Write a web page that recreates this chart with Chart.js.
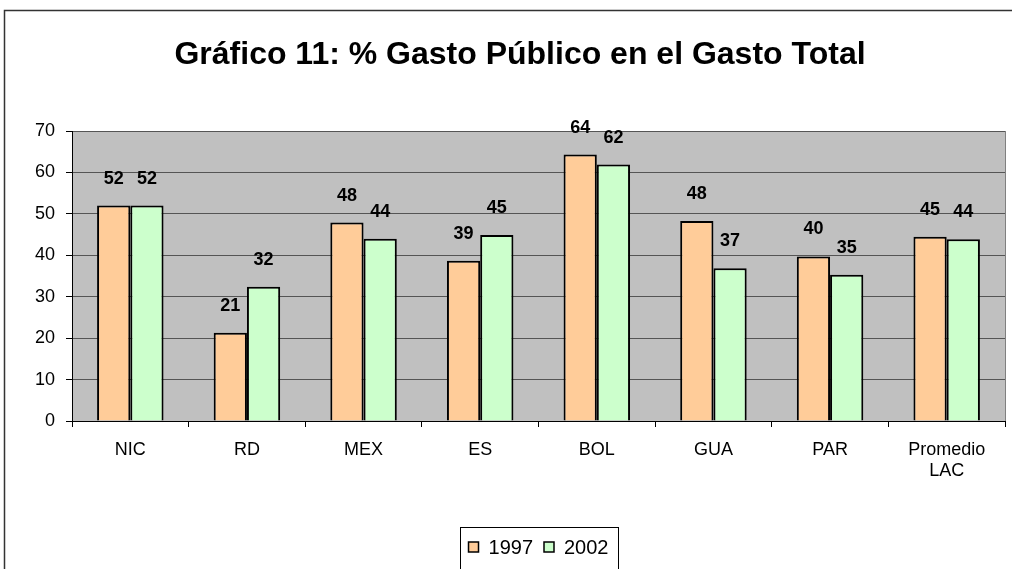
<!DOCTYPE html>
<html>
<head>
<meta charset="utf-8">
<script src="https://cdn.jsdelivr.net/npm/chart.js@4.4.0/dist/chart.umd.min.js"></script>
<style>
html, body { margin: 0; padding: 0; background: #fff; }
#wrap { width: 1012px; height: 569px; }
</style>
</head>
<body>
<div id="wrap"><canvas id="grafico" width="1012" height="569"></canvas></div>
<script>
// datos
const paises = ['NIC', 'RD', 'MEX', 'ES', 'BOL', 'GUA', 'PAR', ['Promedio', 'LAC']];
const gasto1997 = [52.0, 21.3, 47.9, 38.7, 64.3, 48.3, 39.7, 44.5];
const gasto2002 = [52.0, 32.4, 44.0, 44.9, 61.9, 36.9, 35.3, 43.9];
const años = ['1997', '2002'];
const titulo = 'Gráfico 11: % Gasto Público en el Gasto Total';
const yMin = 0, yMax = 70, yPaso = 10;

const fuente = '"Liberation Sans", Arial, sans-serif';

const decorado = {
    id: 'decorado',
    beforeDraw(chart) {
        const ctx = chart.ctx, a = chart.chartArea;
        ctx.save();
        ctx.fillStyle = '#fff';
        ctx.fillRect(0, 0, chart.width, chart.height);
        // marco exterior (cortado a la derecha y abajo)
        ctx.strokeStyle = '#333';
        ctx.lineWidth = 1.5;
        ctx.strokeRect(4.5, 10.5, 1200, 700);
        // fondo gris del area de trazado
        ctx.fillStyle = '#c0c0c0';
        ctx.fillRect(a.left, a.top, a.right - a.left, a.bottom - a.top);
        ctx.strokeStyle = '#808080';
        ctx.lineWidth = 1;
        ctx.strokeRect(a.left + 0.5, a.top + 0.5, a.right - a.left, a.bottom - a.top);
        ctx.restore();
    },
    afterDatasetsDraw(chart) {
        const ctx = chart.ctx;
        ctx.save();
        ctx.font = 'bold 18px ' + fuente;
        ctx.fillStyle = '#000';
        ctx.textAlign = 'center';
        ctx.textBaseline = 'middle';
        chart.data.datasets.forEach(function(ds, i) {
            chart.getDatasetMeta(i).data.forEach(function(bar, j) {
                ctx.fillText(Math.round(ds.data[j]).toString(), bar.x, bar.y - 27);
            });
        });
        ctx.restore();
    },
    afterDraw(chart) {
        const ctx = chart.ctx, a = chart.chartArea;
        ctx.save();
        // titulo
        ctx.font = 'bold 32px ' + fuente;
        ctx.fillStyle = '#000';
        ctx.textAlign = 'center';
        ctx.textBaseline = 'alphabetic';
        ctx.fillText(titulo, 520, 64);

        // leyenda con recuadro
        ctx.font = '20px ' + fuente;
        ctx.textAlign = 'left';
        ctx.textBaseline = 'middle';
        const cuadro = 10, hueco = 10, entre = 11, margen = 9;
        const items = chart.data.datasets.map(function(ds) {
            return { texto: ds.label, color: ds.backgroundColor, ancho: cuadro + hueco + ctx.measureText(ds.label).width };
        });
        const total = items.reduce(function(s, it) { return s + it.ancho; }, 0) + entre * (items.length - 1);
        const cx = (a.left + a.right) / 2, cy = 547;
        const x0 = cx - total / 2;
        ctx.strokeStyle = '#000';
        ctx.lineWidth = 1;
        ctx.strokeRect(Math.round(x0 - margen) + 0.5, 527.5, Math.round(total + 2 * margen), 50);
        let x = x0;
        items.forEach(function(it) {
            ctx.fillStyle = it.color;
            ctx.fillRect(x, cy - cuadro / 2, cuadro, cuadro);
            ctx.strokeStyle = '#000';
            ctx.lineWidth = 1.5;
            ctx.strokeRect(x, cy - cuadro / 2, cuadro, cuadro);
            ctx.fillStyle = '#000';
            ctx.fillText(it.texto, x + cuadro + hueco, cy + 1);
            x += it.ancho + entre;
        });
        ctx.restore();
    }
};

new Chart(document.getElementById('grafico'), {
    type: 'bar',
    data: {
        labels: paises,
        datasets: [
            { label: años[0], data: gasto1997, backgroundColor: '#ffcc99', borderColor: '#000', borderWidth: 2 },
            { label: años[1], data: gasto2002, backgroundColor: '#ccffcc', borderColor: '#000', borderWidth: 2 }
        ]
    },
    options: {
        responsive: false,
        animation: false,
        layout: { padding: { top: 131, right: 7, bottom: 0, left: 0 } },
        datasets: { bar: { barPercentage: 1, categoryPercentage: 0.57 } },
        plugins: {
            legend: { display: false },
            title: { display: false },
            tooltip: { enabled: false }
        },
        scales: {
            x: {
                afterFit(scale) { scale.height = 148; },
                grid: { offset: true, drawOnChartArea: false, tickLength: 6, tickColor: '#000' },
                border: { color: '#000', width: 1 },
                ticks: { color: '#000', font: { family: fuente, size: 18 }, padding: 12, maxRotation: 0 }
            },
            y: {
                min: yMin,
                max: yMax,
                afterFit(scale) { scale.width = 72; },
                grid: { color: '#555', tickLength: 6, tickColor: '#000' },
                border: { color: '#000', width: 1 },
                ticks: { stepSize: yPaso, color: '#000', font: { family: fuente, size: 18 }, padding: 11 }
            }
        }
    },
    plugins: [decorado]
});
</script>
</body>
</html>
